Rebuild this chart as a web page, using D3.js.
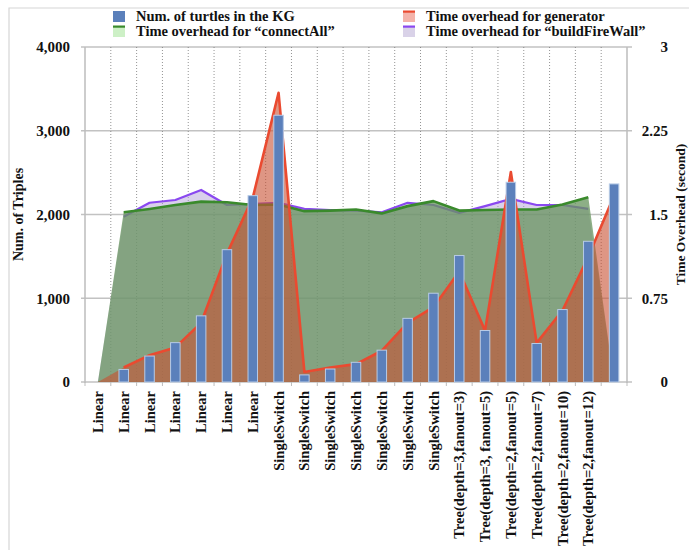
<!DOCTYPE html>
<html><head><meta charset="utf-8">
<script src="https://cdn.jsdelivr.net/npm/d3@7"></script>
<style>
html,body{margin:0;padding:0;background:#fff;}
text{font-family:"Liberation Serif","Times New Roman",serif;font-weight:bold;fill:#111;}
</style></head>
<body>
<svg id="chart" width="689" height="550"></svg>
<script>
// ---- data ----
const categories = ["Linear","Linear","Linear","Linear","Linear","Linear","Linear",
  "SingleSwitch","SingleSwitch","SingleSwitch","SingleSwitch","SingleSwitch","SingleSwitch","SingleSwitch",
  "Tree(depth=3,fanout=3)","Tree(depth=3, fanout=5)","Tree(depth=2,fanout=5)","Tree(depth=2,fanout=7)",
  "Tree(depth=2,fanout=10)","Tree(depth=2,fanout=12)",""];
const turtles = [null,150,310,470,790,1580,2225,3185,85,155,235,380,760,1060,1510,615,2385,460,865,1680,2365];
const generatorTime = [null,0.13,0.24,0.31,0.53,1.15,1.65,2.59,0.09,0.13,0.16,0.28,0.53,0.67,0.99,0.46,1.88,0.35,0.64,1.12,1.67];
const connectAllTime = [null,1.52,1.55,1.585,1.615,1.61,1.585,1.59,1.53,1.535,1.545,1.51,1.575,1.62,1.535,1.54,1.545,1.545,1.59,1.655,null];
const fireWallTime = [null,1.48,1.605,1.63,1.72,1.585,1.595,1.605,1.55,1.54,1.535,1.52,1.605,1.585,1.515,1.575,1.64,1.585,1.585,1.55,null];
const leftTicks = [0,1000,2000,3000,4000];
const rightTicks = [0,0.75,1.5,2.25,3];
const legendItems = [
  {label:"Num. of turtles in the KG", fill:"#5b80bb", line:null},
  {label:"Time overhead for generator", fill:"#f4b3aa", line:"#ea4a30"},
  {label:"Time overhead for \u201cconnectAll\u201d", fill:"#cdf0c6", line:"#3a8a2c"},
  {label:"Time overhead for \u201cbuildFireWall\u201d", fill:"#d9d2e8", line:"#8a48f0"}
];

// ---- layout ----
const svg = d3.select("#chart");
const L = 85, R = 627, T = 47, B = 382;
const x = d3.scaleBand().domain(d3.range(categories.length)).range([L, R]).padding(0);
const cx = i => x(i) + x.bandwidth()/2;
const yL = d3.scaleLinear().domain([0,4000]).range([B, T]);
const yR = d3.scaleLinear().domain([0,3]).range([B, T]);

// frame border
svg.append("path").attr("d", `M9,550 L9,8 L689,8`).attr("fill","none").attr("stroke","#d6d6d6").attr("stroke-width",1.2);

// horizontal gridlines
svg.append("g").selectAll("line").data(leftTicks).join("line")
  .attr("x1", L-4).attr("x2", R+5).attr("y1", d=>yL(d)).attr("y2", d=>yL(d))
  .attr("stroke","#c2c2c2").attr("stroke-width",1.5);

// vertical dotted lines at category boundaries
svg.append("g").selectAll("line").data(d3.range(1, categories.length)).join("line")
  .attr("x1", i=>x(i)).attr("x2", i=>x(i)).attr("y1", T).attr("y2", B)
  .attr("stroke","#777").attr("stroke-width",0.8).attr("stroke-dasharray","1,2");

// axis lines
svg.append("line").attr("x1",L).attr("x2",L).attr("y1",T).attr("y2",B+1).attr("stroke","#bdbdbd").attr("stroke-width",1.5);
svg.append("line").attr("x1",R).attr("x2",R).attr("y1",T).attr("y2",B+1).attr("stroke","#bdbdbd").attr("stroke-width",1.5);
svg.append("g").selectAll("line").data(d3.range(0, categories.length+1)).join("line")
  .attr("x1", i=> i<categories.length ? x(i) : R).attr("x2", i=> i<categories.length ? x(i) : R)
  .attr("y1", B).attr("y2", B+4).attr("stroke","#bdbdbd").attr("stroke-width",1);

// areas & lines
const idx = d3.range(categories.length);
function areaGen(arr){ return d3.area().x(i=>cx(i)).y0(B).y1(i=>yR(arr[i] ?? 0))(idx); }
function lineGen(arr){ return d3.line().defined(i=>arr[i]!=null).x(i=>cx(i)).y(i=>yR(arr[i]))(idx); }

svg.append("path").attr("d", areaGen(fireWallTime)).attr("fill","rgb(170,150,210)").attr("fill-opacity",0.45);
svg.append("path").attr("d", lineGen(fireWallTime)).attr("fill","none").attr("stroke","#8a48f0").attr("stroke-width",2.2).attr("stroke-linejoin","round");
svg.append("path").attr("d", areaGen(connectAllTime)).attr("fill","rgb(103,148,94)").attr("fill-opacity",0.75);
svg.append("path").attr("d", lineGen(connectAllTime)).attr("fill","none").attr("stroke","#3a8a2c").attr("stroke-width",2.6).attr("stroke-linejoin","round");
svg.append("path").attr("d", areaGen(generatorTime)).attr("fill","rgb(200,80,50)").attr("fill-opacity",0.6);
svg.append("path").attr("d", lineGen(generatorTime)).attr("fill","none").attr("stroke","#ea4a30").attr("stroke-width",2.6).attr("stroke-linejoin","round");

// bars
const bw = 9.5;
svg.append("g").selectAll("rect").data(idx.filter(i=>turtles[i]!=null)).join("rect")
  .attr("x", i=>cx(i)-bw/2).attr("width", bw)
  .attr("y", i=>yL(turtles[i])).attr("height", i=>B-yL(turtles[i]))
  .attr("fill","#5b80bb").attr("stroke","#b8cbe6").attr("stroke-width",1);

// left axis labels
const gl = svg.append("g").attr("transform",`translate(${L-15},0)`)
  .call(d3.axisLeft(yL).tickValues(leftTicks).tickFormat(d3.format(",")).tickSize(0).tickPadding(0));
gl.select(".domain").remove();
gl.selectAll("text").style("font-size","15px").style("font-family",'"Liberation Serif",serif').style("font-weight","bold").attr("fill","#111");

// right axis labels (right aligned)
const gr = svg.append("g").attr("transform",`translate(${R+41},0)`)
  .call(d3.axisLeft(yR).tickValues(rightTicks).tickFormat(d=>String(d)).tickSize(0).tickPadding(0));
gr.select(".domain").remove();
gr.selectAll("text").style("font-size","15px").style("font-family",'"Liberation Serif",serif').style("font-weight","bold").attr("fill","#111");

// x labels
svg.append("g").selectAll("text").data(idx.filter(i=>categories[i]!=="")).join("text")
  .attr("transform", i=>`translate(${cx(i)},391) rotate(-90)`)
  .attr("text-anchor","end").attr("dy","0.35em")
  .style("font-size","14.5px").text(i=>categories[i]);

// axis titles
svg.append("text").attr("transform",`translate(18,${(T+B)/2}) rotate(-90)`)
  .attr("text-anchor","middle").attr("dy","0.35em").style("font-size","14px").text("Num. of Triples");
svg.append("text").attr("transform",`translate(685,${(T+B)/2}) rotate(-90)`)
  .attr("text-anchor","middle").style("font-size","13.5px").text("Time Overhead (second)");

// legend
const legPos = [[113,11],[403,11],[113,26],[403,26]];
const lg = svg.append("g");
legendItems.forEach((d,k)=>{
  const [lx,ly] = legPos[k];
  const g = lg.append("g").attr("transform",`translate(${lx},${ly})`);
  if(d.line){
    g.append("rect").attr("x",0).attr("y",1).attr("width",12).attr("height",10).attr("fill",d.fill);
    g.append("rect").attr("x",0).attr("y",-0.5).attr("width",12).attr("height",2.2).attr("fill",d.line);
  } else {
    g.append("rect").attr("x",0).attr("y",0).attr("width",12).attr("height",11).attr("fill",d.fill);
  }
  g.append("text").attr("x",23).attr("y",9.8).style("font-size","14.5px").text(d.label);
});
</script>
</body></html>
